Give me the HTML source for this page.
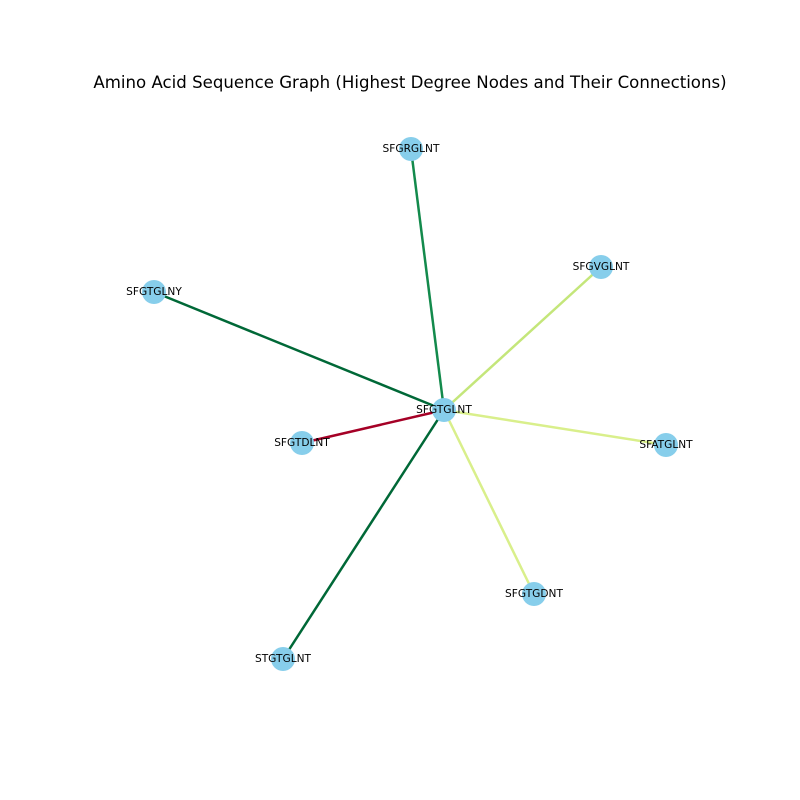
<!DOCTYPE html>
<html><head><meta charset="utf-8"><style>body{margin:0;background:#fff}svg{display:block}</style></head>
<body>
<svg width="800" height="800" xmlns="http://www.w3.org/2000/svg" font-family="'DejaVu Sans','Liberation Sans',sans-serif">
<rect width="800" height="800" fill="#fff"/>
<text x="410" y="88" font-size="16.6" text-anchor="middle" fill="#000">Amino Acid Sequence Graph (Highest Degree Nodes and Their Connections)</text>
<g stroke-width="2.5">
<line x1="444" y1="410" x2="411" y2="149" stroke="#138a4c"/>
<line x1="444" y1="410" x2="601" y2="267" stroke="#c4e67a"/>
<line x1="444" y1="410" x2="154" y2="292" stroke="#006837"/>
<line x1="444" y1="410" x2="302" y2="443" stroke="#a50026"/>
<line x1="444" y1="410" x2="666" y2="445" stroke="#d9ef8b"/>
<line x1="444" y1="410" x2="534" y2="594" stroke="#d9ef8b"/>
<line x1="444" y1="410" x2="283" y2="659" stroke="#006837"/>
</g>
<g fill="#87ceeb">
<circle cx="444" cy="410" r="12"/>
<circle cx="411" cy="149" r="12"/>
<circle cx="601" cy="267" r="12"/>
<circle cx="154" cy="292" r="12"/>
<circle cx="302" cy="443" r="12"/>
<circle cx="666" cy="445" r="12"/>
<circle cx="534" cy="594" r="12"/>
<circle cx="283" cy="659" r="12"/>
</g>
<g font-size="10.6" text-anchor="middle" fill="#000">
<text x="444" y="413">SFGTGLNT</text>
<text x="411" y="152">SFGRGLNT</text>
<text x="601" y="270">SFGVGLNT</text>
<text x="154" y="295">SFGTGLNY</text>
<text x="302" y="446">SFGTDLNT</text>
<text x="666" y="448">SFATGLNT</text>
<text x="534" y="597">SFGTGDNT</text>
<text x="283" y="662">STGTGLNT</text>
</g>
</svg>
</body></html>
